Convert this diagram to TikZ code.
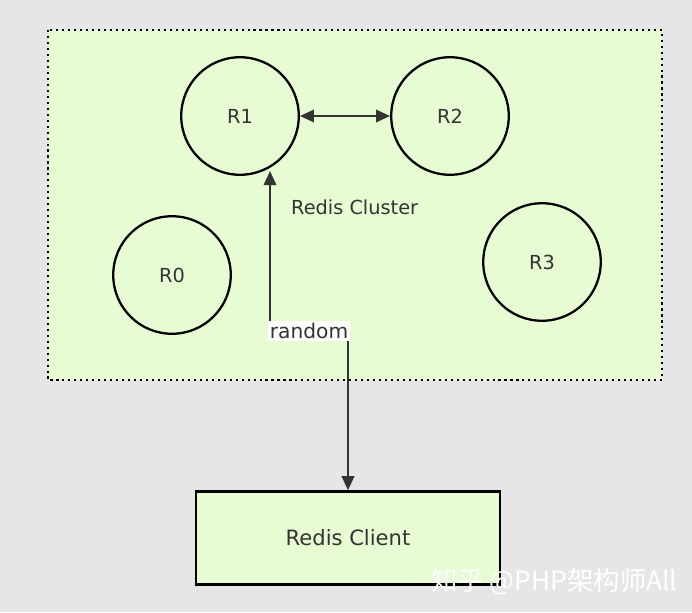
\documentclass[tikz,border=0pt]{standalone}
\usepackage{fontspec}
\setmainfont{DejaVu Sans}
\newfontfamily\cjk{Noto Sans CJK SC}
\usetikzlibrary{arrows.meta}
\definecolor{bg}{HTML}{E6E6E6}
\definecolor{fillg}{HTML}{E8FCD4}
\tikzset{
  tip/.tip={Triangle[length=8pt,width=7pt]},
  srv/.style={circle,draw,line width=1.3pt,minimum size=118pt*0.02/0.0352778,font=\fontsize{11}{11}\selectfont,text=black!80},
  conn/.style={line width=1.4pt,draw=black!80,-tip},
}
\begin{document}
\begin{tikzpicture}[x=0.02cm,y=-0.02cm]
\fill[bg] (0,0) rectangle (692,612);
\useasboundingbox (0,0) rectangle (692,612);
\draw[fill=fillg,line width=1.5pt,dash pattern=on 1.2pt off 2.2pt] (48,30) rectangle (662,380);
\node[srv] (r1) at (240,116) {R1};
\node[srv] (r2) at (450,116) {R2};
\node[srv] (r0) at (172,275) {R0};
\node[srv] (r3) at (542,262) {R3};
\node[font=\fontsize{11}{11}\selectfont,text=black!80,anchor=west] (lbl) at (285,207) {Redis Cluster};
\node[draw,fill=fillg,line width=1.4pt,minimum width=304*0.02cm,minimum height=93*0.02cm,font=\fontsize{12}{12}\selectfont,text=black!80] (cl) at (348,538) {Redis Client};
\draw[conn,tip-tip] (r1) -- (r2);
\coordinate (a) at (348,330);
\coordinate (b) at (270,330);
\draw[conn] (a) -- (cl.north -| a);
\draw[conn] (b) -- (270,171);
\node[fill=white,inner sep=1pt,font=\fontsize{11.5}{11.5}\selectfont,text=black!80] (rnd) at (309,331) {random};
\node[text=white,font=\cjk\fontsize{15}{15}\selectfont,anchor=west] (wm) at (425,582) {知乎 @PHP架构师All};
\end{tikzpicture}
\end{document}
